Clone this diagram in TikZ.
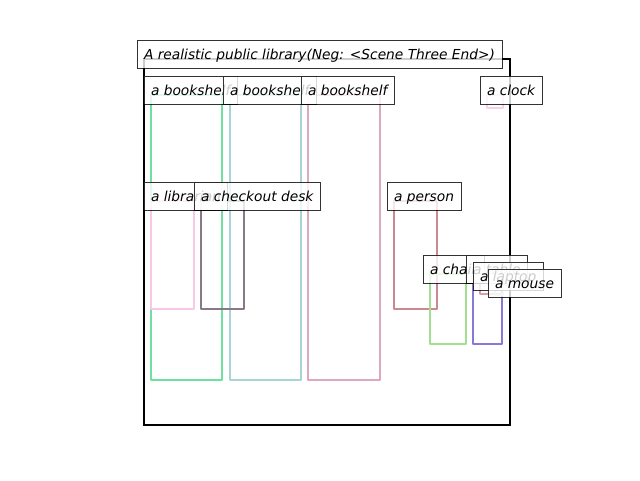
\documentclass[tikz,border=0pt]{standalone}
\usepackage{fontspec}
\newfontfamily\lblfont{DejaVu Sans}
\begin{document}
\begin{tikzpicture}[x=0.75pt,y=-0.75pt,
  lbl/.style={draw=black, draw opacity=0.8, fill=white, fill opacity=0.8, text opacity=1,
    line width=0.75pt, inner xsep=5.25pt, inner ysep=4.5pt, outer sep=0pt,
    text height=9.75pt, text depth=2.25pt, anchor=base west,
    font=\lblfont\itshape\fontsize{10.33pt}{12pt}\selectfont},
  obj/.style={line width=1.8pt, line join=round}]
\useasboundingbox (0,0) rectangle (640,480);
\definecolor{cBookA}{HTML}{70E0A0}
\definecolor{cBookB}{HTML}{A8D4D8}
\definecolor{cBookC}{HTML}{DCA8C0}
\definecolor{cClock}{HTML}{F8D0E8}
\definecolor{cLib}{HTML}{F8C8E8}
\definecolor{cDesk}{HTML}{887888}
\definecolor{cPerson}{HTML}{CC8890}
\definecolor{cChair}{HTML}{A0E090}
\definecolor{cTable}{HTML}{8878D8}
\definecolor{cLaptop}{HTML}{D8A0A0}
\definecolor{cMouse}{HTML}{C8E0C0}
% frame
\draw[line width=2.1pt, line join=miter] (144,59) rectangle (510,425);
% object boxes
\draw[obj, cBookA] (151,95) rectangle (222,380);
\draw[obj, cBookB] (230,95) rectangle (301,380);
\draw[obj, cBookC] (308,95) rectangle (380,380);
\draw[obj, cClock] (487,95) rectangle (503,108);
\draw[obj, cLib] (151,201) rectangle (194,309);
\draw[obj, cDesk] (201,201) rectangle (244,309);
\draw[obj, cPerson] (394,201) rectangle (437,309);
\draw[obj, cChair] (430,274) rectangle (466,344);
\draw[obj, cTable] (473,274) rectangle (502,344);
\draw[obj, cLaptop] (480,281) rectangle (503,294);
\draw[obj, cMouse] (495,288) rectangle (503,295);
% labels
\node[lbl] (title) at (137,59) {A realistic public library(Neg: <Scene Three End>)};
\node[lbl] (l1) at (144,95) {a bookshelf};
\node[lbl] (l2) at (223,95) {a bookshelf};
\node[lbl] (l3) at (301,95) {a bookshelf};
\node[lbl] (l4) at (480,95) {a clock};
\node[lbl] (l5) at (144,201) {a librarian};
\node[lbl] (l6) at (194,201) {a checkout desk};
\node[lbl] (l7) at (387,201) {a person};
\node[lbl] (l8) at (423,274) {a chair};
\node[lbl] (l9) at (466,274) {a table};
\node[lbl] (l10) at (473,281) {a laptop};
\node[lbl] (l11) at (488,288) {a mouse};
\end{tikzpicture}
\end{document}
